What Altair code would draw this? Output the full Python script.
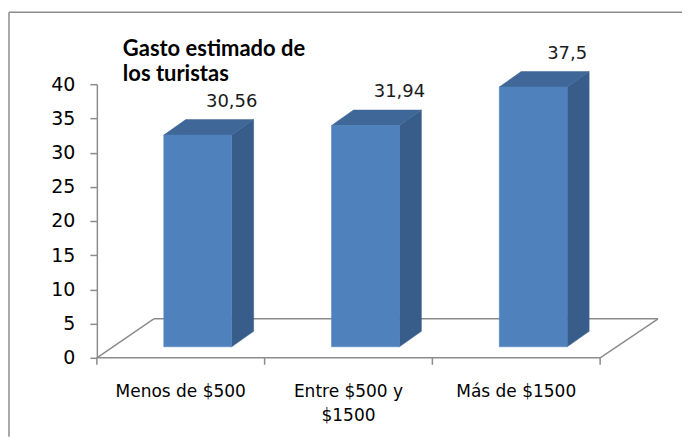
import altair as alt
import pandas as pd

# ---- data ----
categories = ["Menos de $500", "Entre $500 y\n$1500", "Más de $1500"]
values = [30.56, 31.94, 37.5]
value_labels = ["30,56", "31,94", "37,5"]
y_ticks = [0, 5, 10, 15, 20, 25, 30, 35, 40]
title_text = "Gasto estimado de\nlos turistas"

# ---- geometry (pseudo 3D, in data units) ----
W, H = 562, 274
UX = 168.0            # px per category slot
UY = H / 40.0         # px per value unit
XMAX = W / UX
FDX, FDY = 57 / UX, 39 / UY          # floor depth
OFF, BW = 17 / UX, 68 / UX           # bar front face offset / width
BDX, BDY = 22 / UX, 15.5 / UY        # bar depth
BASE = 11 / UY
K = 1.013

FRONT = "#4F81BD"
SIDE = "#385D8A"
TOP = "#3F6798"
GRAY = "#8C8C8C"

front_rows, side_rows, top_rows, label_rows, cat_rows = [], [], [], [], []
for i, (cat, v, lab) in enumerate(zip(categories, values, value_labels)):
    c = i + 0.5
    x0 = c + OFF - BW / 2
    x1 = c + OFF + BW / 2
    top = BASE + v * K
    front_rows.append(dict(b=i, x0=x0, x1=x1, lo=BASE, hi=top))
    side_rows += [dict(b=i, x=x1, lo=BASE, hi=top),
                  dict(b=i, x=x1 + BDX, lo=BASE + BDY, hi=top + BDY)]
    top_rows += [dict(b=i, x=x0, lo=top, hi=top),
                 dict(b=i, x=x0 + BDX, lo=top, hi=top + BDY),
                 dict(b=i, x=x1, lo=top, hi=top + BDY),
                 dict(b=i, x=x1 + BDX, lo=top + BDY, hi=top + BDY)]
    label_rows.append(dict(x=x1, y=top + BDY + 18 / UY, t=lab))
    cat_rows.append(dict(x=c, y=-39 / UY, t=cat))

floor_rows = [
    dict(x=0, y=0, x2=3, y2=0),
    dict(x=0, y=0, x2=FDX, y2=FDY),
    dict(x=FDX, y=FDY, x2=XMAX, y2=FDY),
    dict(x=XMAX, y=FDY, x2=3, y2=0),
]
for t in range(4):
    floor_rows.append(dict(x=t, y=0, x2=t, y2=-7 / UY))

xs = alt.Scale(domain=[0, XMAX], nice=False, zero=False)
ys = alt.Scale(domain=[0, 40], nice=False, zero=False)
yaxis = alt.Axis(values=y_ticks, grid=False, domainColor=GRAY, tickColor=GRAY,
                 tickSize=7, domainWidth=1.5, tickWidth=1.5,
                 labelFont="DejaVu Sans", labelFontSize=19, labelColor="#000",
                 labelPadding=15, title=None)


def X(f):
    return alt.X(f, type="quantitative", scale=xs, axis=None, title=None)


def Y(f):
    return alt.Y(f, type="quantitative", scale=ys, axis=yaxis, title=None)


floor = alt.Chart(pd.DataFrame(floor_rows)).mark_rule(color=GRAY, strokeWidth=1.5).encode(
    x=X("x"), x2="x2", y=Y("y"), y2="y2")

front = alt.Chart(pd.DataFrame(front_rows)).mark_rect(color=FRONT, stroke=FRONT, strokeWidth=0.5).encode(
    x=X("x0"), x2="x1", y=Y("lo"), y2="hi")

side = alt.Chart(pd.DataFrame(side_rows)).mark_area(color=SIDE, stroke=SIDE, strokeWidth=0.5).encode(
    x=X("x"), y=Y("lo"), y2="hi", detail="b:N")

topf = alt.Chart(pd.DataFrame(top_rows)).mark_area(color=TOP, stroke=TOP, strokeWidth=0.5).encode(
    x=X("x"), y=Y("lo"), y2="hi", detail="b:N")

labels = alt.Chart(pd.DataFrame(label_rows)).mark_text(
    font="DejaVu Sans", fontSize=18, color="#1a1a1a", baseline="middle", align="center").encode(
    x=X("x"), y=Y("y"), text="t:N")

cats = alt.Chart(pd.DataFrame(cat_rows)).mark_text(
    font="DejaVu Sans", fontSize=17, color="#000", baseline="alphabetic", align="center",
    lineBreak="\n", lineHeight=24).encode(
    x=X("x"), y=Y("y"), text="t:N")

dummy = alt.Data(values=[{"a": 1}])
frame_left = alt.Chart(dummy).mark_rule(color=GRAY, strokeWidth=1.5).encode(
    x=alt.value(-88), y=alt.value(-72), y2=alt.value(353))
frame_top = alt.Chart(dummy).mark_rule(color=GRAY, strokeWidth=1.5).encode(
    y=alt.value(-72), x=alt.value(-88), x2=alt.value(586))
title = alt.Chart(dummy).mark_text(
    text=title_text, lineBreak="\n", lineHeight=25, font="Lato", fontSize=22,
    fontWeight="bold", color="#000", align="left", baseline="alphabetic").encode(
    x=alt.value(26), y=alt.value(-28))

chart = alt.layer(frame_left, frame_top, floor, side, topf, front, labels, cats, title).properties(
    width=W, height=H,
    padding={"left": 0, "top": 3, "right": 0, "bottom": 0},
).configure(background="white", view=alt.ViewConfig(stroke=None))

chart.save("out.html", embed_options={"renderer": "svg", "actions": False})
